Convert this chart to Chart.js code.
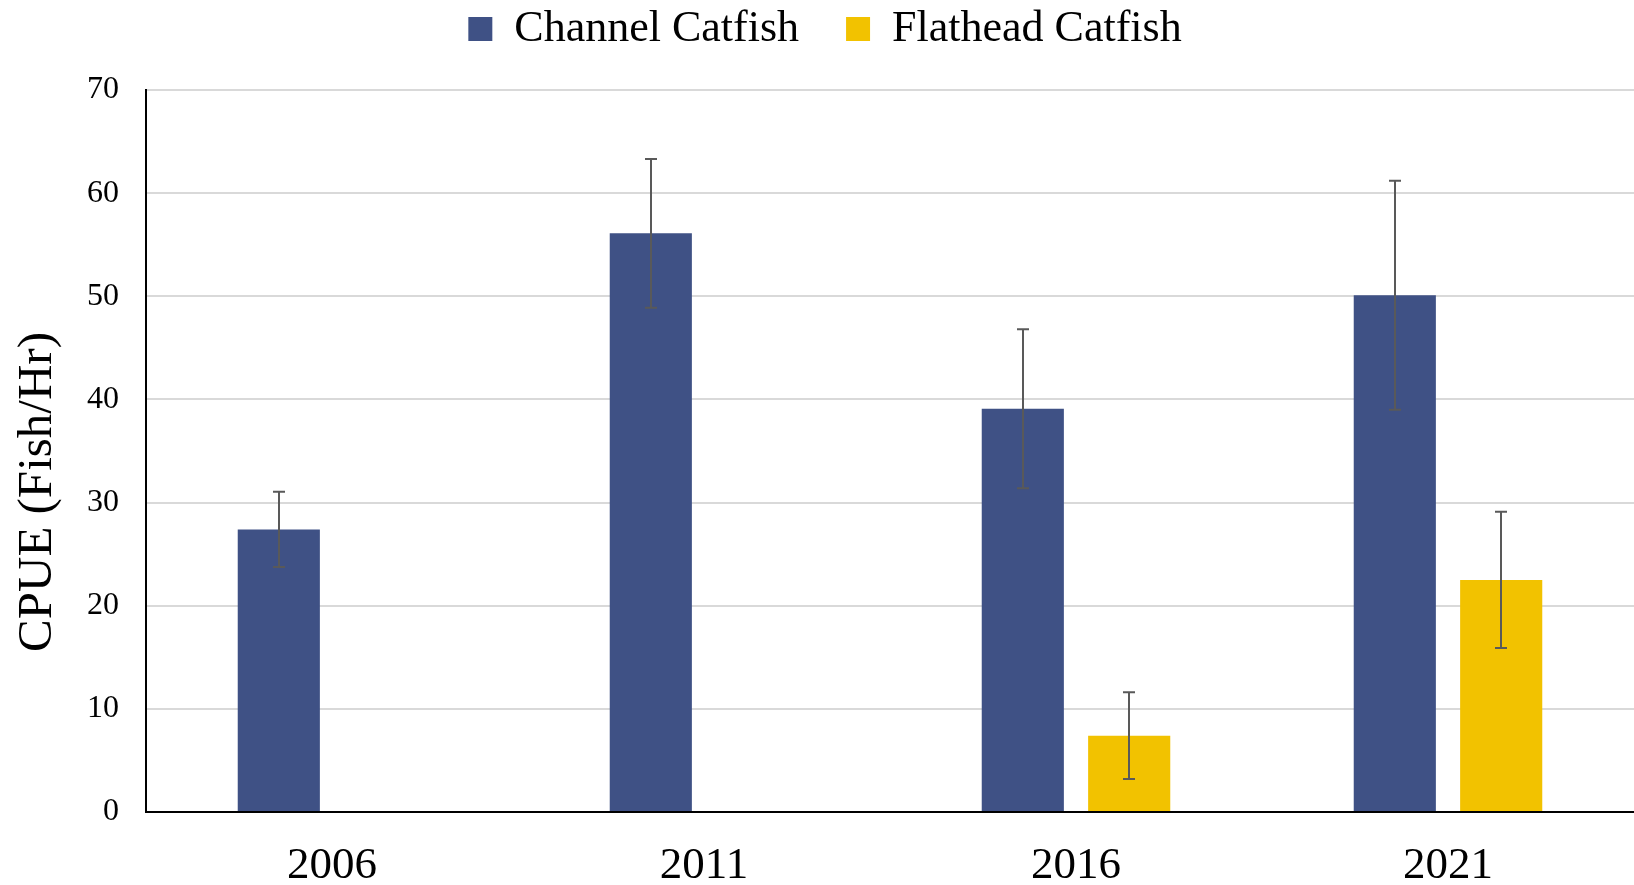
<!DOCTYPE html>
<html>
<head>
<meta charset="utf-8">
<script src="https://cdn.jsdelivr.net/npm/chart.js@4"></script>
<style>
  html, body { margin: 0; padding: 0; background: #fff; }
  #wrap { width: 1634px; height: 885px; }
</style>
</head>
<body>
<div id="wrap"><canvas id="c" width="1634" height="885"></canvas></div>
<script>
// ---- data ----
const years = ['2006', '2011', '2016', '2021'];
const channelCPUE = [27.4, 56.1, 39.1, 50.1];
const channelErr  = [3.65, 7.2, 7.7, 11.1];
const flatheadCPUE = [null, null, 7.4, 22.5];
const flatheadErr  = [null, null, 4.2, 6.6];
const seriesNames = ['Channel Catfish', 'Flathead Catfish'];
const yTicks = [0, 10, 20, 30, 40, 50, 60, 70];
const yTitle = 'CPUE (Fish/Hr)';

const errors = [channelErr, flatheadErr];

const FONT = "'Liberation Serif', 'Times New Roman', serif";
Chart.defaults.font.family = FONT;
Chart.defaults.color = '#000';

const errorBars = {
  id: 'errorBars',
  afterDatasetsDraw(chart) {
    const ctx = chart.ctx;
    const yScale = chart.scales.y;
    ctx.save();
    ctx.strokeStyle = '#595959';
    ctx.lineWidth = 2;
    chart.data.datasets.forEach((ds, i) => {
      const meta = chart.getDatasetMeta(i);
      meta.data.forEach((el, j) => {
        const v = ds.data[j];
        const e = errors[i][j];
        if (v == null || e == null) return;
        const x = Math.round(el.x);
        const yT = yScale.getPixelForValue(v + e);
        const yB = yScale.getPixelForValue(v - e);
        ctx.beginPath();
        ctx.moveTo(x, yT); ctx.lineTo(x, yB);
        ctx.moveTo(x - 6, yT); ctx.lineTo(x + 6, yT);
        ctx.moveTo(x - 6, yB); ctx.lineTo(x + 6, yB);
        ctx.stroke();
      });
    });
    ctx.restore();
  }
};

// y-axis title, drawn beside the y scale (slightly below its centre, as in the original)
const yTitlePlugin = {
  id: 'yTitlePlugin',
  afterDraw(chart) {
    const ctx = chart.ctx;
    const s = chart.scales.y;
    ctx.save();
    ctx.translate(38, (s.top + s.bottom) / 2 + 41);
    ctx.rotate(-Math.PI / 2);
    ctx.font = '49px ' + FONT;
    ctx.fillStyle = '#000';
    ctx.textAlign = 'center';
    ctx.textBaseline = 'middle';
    ctx.fillText(yTitle, 0, 0);
    ctx.restore();
  }
};

const legendFix = {
  id: 'legendFix',
  beforeUpdate(chart) {
    const lg = chart.legend;
    if (lg && !lg._patched) {
      const orig = lg.fit;
      lg.fit = function () { orig.call(this); this.height = 90; };
      lg._patched = true;
    }
  },
  afterLayout(chart) {
    const lg = chart.legend;
    if (lg) { lg.top = -40; lg.bottom = 50; lg.left += 8; lg.right += 8; }
  }
};

new Chart(document.getElementById('c'), {
  type: 'bar',
  data: {
    labels: years,
    datasets: [
      { label: seriesNames[0], data: channelCPUE, backgroundColor: '#3F5185' },
      { label: seriesNames[1], data: flatheadCPUE, backgroundColor: '#F2C200' }
    ]
  },
  options: {
    responsive: false,
    devicePixelRatio: 1,
    animation: false,
    categoryPercentage: 0.572,
    barPercentage: 0.772,
    layout: { padding: 0 },
    plugins: {
      tooltip: { enabled: false },
      legend: {
        position: 'top',
        align: 'center',
        labels: {
          boxWidth: 24,
          boxHeight: 24,
          padding: 47,
          font: { size: 44 },
          color: '#000'
        }
      }
    },
    scales: {
      x: {
        grid: { display: false, drawTicks: false },
        border: { display: true, color: '#000', width: 2 },
        ticks: { font: { size: 45 }, padding: 27, color: '#000' },
        afterFit(scale) { scale.height = 73; }
      },
      y: {
        min: 0,
        max: 70,
        afterBuildTicks(scale) { scale.ticks = yTicks.map(v => ({ value: v })); },
        grid: { color: '#d9d9d9', lineWidth: 2, drawTicks: false },
        border: { display: true, color: '#000', width: 2 },
        ticks: { font: { size: 32 }, padding: 27, color: '#000' },
        title: { display: false },
        afterFit(scale) { scale.width = 146; }
      }
    }
  },
  plugins: [errorBars, legendFix, yTitlePlugin]
});
</script>
</body>
</html>
